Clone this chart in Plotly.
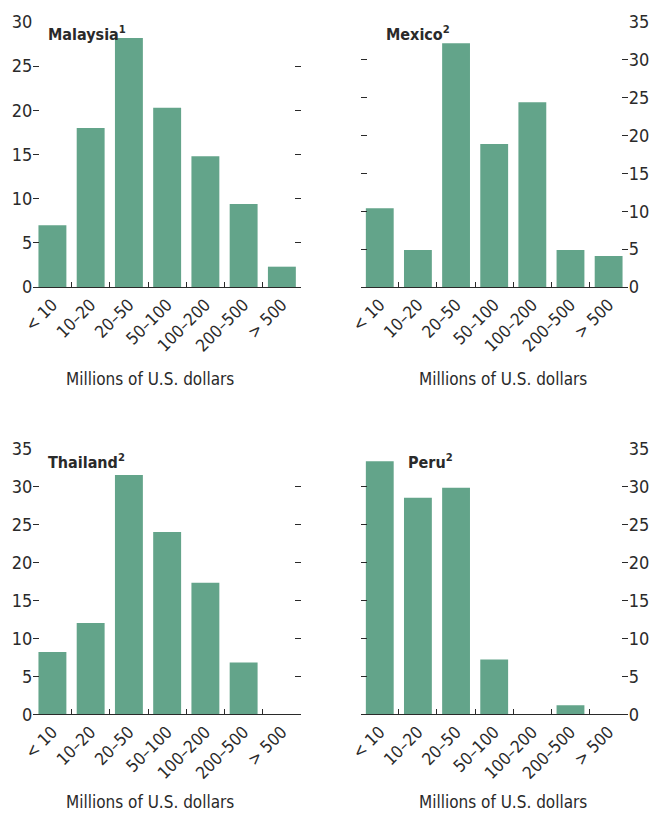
import plotly.graph_objects as go

categories = ["< 10", "10–20", "20–50", "50–100", "100–200", "200–500", "> 500"]
malaysia = [7.0, 18.0, 28.2, 20.3, 14.8, 9.4, 2.3]
mexico = [10.4, 4.9, 32.2, 18.9, 24.4, 4.9, 4.1]
thailand = [8.2, 12.0, 31.5, 24.0, 17.3, 6.8, 0.0]
peru = [33.3, 28.5, 29.8, 7.2, 0.0, 1.2, 0.0]
titles = ["Malaysia<sup>1</sup>", "Mexico<sup>2</sup>", "Thailand<sup>2</sup>", "Peru<sup>2</sup>"]
y_tops = [30, 35, 35, 35]
x_title = "Millions of U.S. dollars"

W, H = 652, 813
BAR = "#63a48a"
TXT = "#2a2a2a"
FONT = "Liberation Sans Narrow, Arial Narrow, DejaVu Sans Condensed, sans-serif"

def px_x(p):
    return p / W

def px_y(p):
    return 1 - p / H

xdoms = [[px_x(33.3), px_x(301)], [px_x(360.7), px_x(627.7)]]
ydoms = [[px_y(287), px_y(22)], [px_y(714.3), px_y(448.3)]]

panels = [
    (malaysia, 0, 0, "left"),
    (mexico, 1, 0, "right"),
    (thailand, 0, 1, "left"),
    (peru, 1, 1, "right"),
]

fig = go.Figure()
layout = dict(
    width=W, height=H,
    margin=dict(l=0, r=0, t=0, b=0, autoexpand=False),
    paper_bgcolor="white", plot_bgcolor="white",
    showlegend=False,
    bargap=0.27,
    font=dict(family=FONT, size=17, color=TXT),
)
annotations = []
for i, (vals, col, row, side) in enumerate(panels):
    n = i + 1
    xa = "x" if n == 1 else f"x{n}"
    ya = "y" if n == 1 else f"y{n}"
    fig.add_trace(go.Bar(x=categories, y=vals, marker=dict(color=BAR, line=dict(width=0)),
                         xaxis=xa, yaxis=ya, hoverinfo="x+y"))
    layout[f"xaxis{'' if n == 1 else n}"] = dict(
        domain=xdoms[col], anchor=ya, type="category",
        showline=True, linecolor=TXT, linewidth=1.3,
        ticks="inside", ticklen=5, tickwidth=1, tickcolor=TXT,
        tickson="boundaries", tickangle=-45,
        tickfont=dict(family=FONT, size=17, color=TXT),
        showgrid=False, zeroline=False, fixedrange=True,
    )
    layout[f"yaxis{'' if n == 1 else n}"] = dict(
        domain=ydoms[row], anchor=xa, side=side,
        range=[0, y_tops[i]], dtick=5, tick0=0,
        showline=False, mirror="ticks",
        ticks="inside", ticklen=6, tickwidth=1, tickcolor=TXT,
        tickfont=dict(family=FONT, size=18, color=TXT),
        showgrid=False, zeroline=False, fixedrange=True,
    )
    # panel title
    tx = [46, 384, 46, 406][i]
    ty = [33, 33, 461, 461][i]
    annotations.append(dict(text=f"<b>{titles[i]}</b>", x=px_x(tx), y=px_y(ty),
                            xref="paper", yref="paper", xanchor="left", yanchor="middle",
                            showarrow=False, font=dict(family=FONT, size=16, color=TXT)))
    # axis title
    cx = [150, 503, 150, 503][i]
    cy = [379, 379, 802, 802][i]
    annotations.append(dict(text=x_title, x=px_x(cx), y=px_y(cy),
                            xref="paper", yref="paper", xanchor="center", yanchor="middle",
                            showarrow=False, font=dict(family=FONT, size=17, color=TXT)))

layout["annotations"] = annotations
fig.update_layout(**layout)
fig.write_html("out.html", config={"displayModeBar": False},
               post_script="document.body.style.margin='0';document.body.style.overflow='hidden';")
